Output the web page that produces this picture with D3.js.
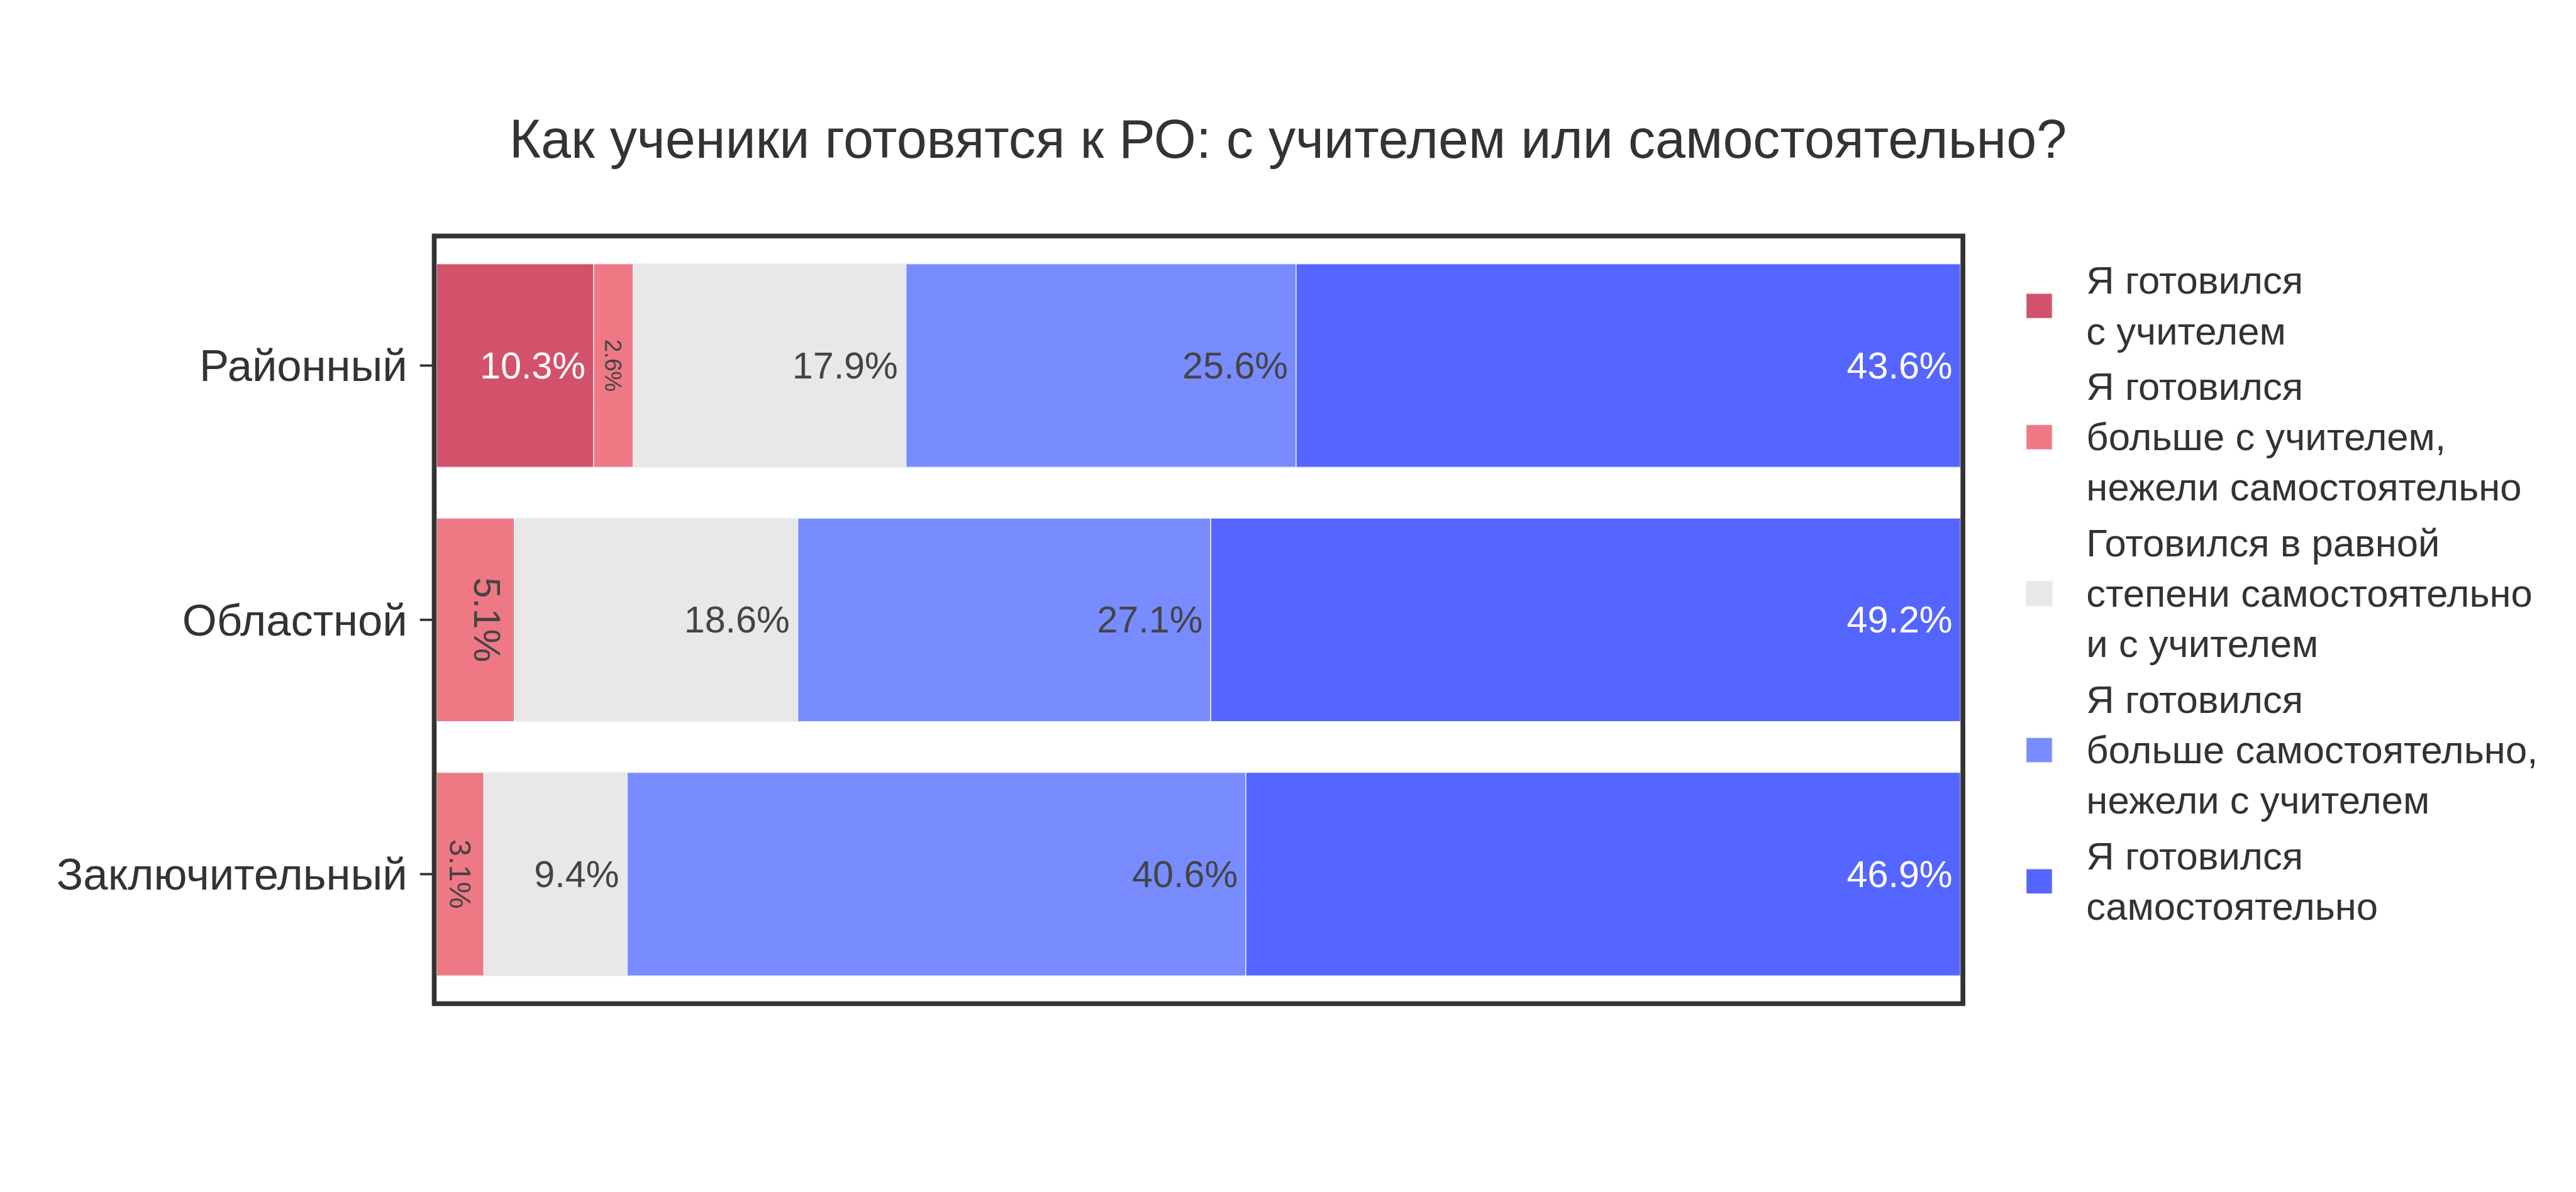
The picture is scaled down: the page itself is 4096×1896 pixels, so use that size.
<!DOCTYPE html>
<html>
<head>
<meta charset="utf-8">
<script src="https://cdn.jsdelivr.net/npm/d3@7"></script>
<style>
  html, body { margin: 0; padding: 0; background: #fff; }
  svg { display: block; }
</style>
</head>
<body>
<svg id="chart"></svg>
<script>
// ---------- DATA ----------
const categories = ["Районный", "Областной", "Заключительный"];
const seriesKeys = ["teacher", "moreTeacher", "equal", "moreSelf", "self"];
const legendLabels = [
  ["Я готовился", "с учителем"],
  ["Я готовился", "больше с учителем,", "нежели самостоятельно"],
  ["Готовился в равной", "степени самостоятельно", "и с учителем"],
  ["Я готовился", "больше самостоятельно,", "нежели с учителем"],
  ["Я готовился", "самостоятельно"]
];
const teacher     = [10.3, 0, 0];
const moreTeacher = [2.6, 5.1, 3.1];
const equal       = [17.9, 18.6, 9.4];
const moreSelf    = [25.6, 27.1, 40.6];
const self        = [43.6, 49.2, 46.9];
const xDomain = [0, 100];
const titleText = "Как ученики готовятся к РО: с учителем или самостоятельно?";

// ---------- STYLE ----------
const colors = ["#D1526A", "#EF7885", "#E8E8E9", "#798CFF", "#5565FF"];
const textColors = ["#ffffff", "#444444", "#444444", "#444444", "#ffffff"];
const FONT = "'Liberation Sans', Arial, Helvetica, sans-serif";
const W = 4320, H = 2000;
const plot = { left: 732, right: 3288, top: 400, bottom: 1680 };
const labelSize = 62.5, tickSize = 74.5, titleSize = 91, legendSize = 65;
const pad = 13.5;

const seriesValues = [teacher, moreTeacher, equal, moreSelf, self];

const svg = d3.select("#chart")
  .attr("width", 4096).attr("height", 1896)
  .attr("viewBox", `0 0 ${W} ${H}`)
  .style("font-family", FONT);

svg.append("rect").attr("width", W).attr("height", H).attr("fill", "#fff");

const x = d3.scaleLinear().domain(xDomain).range([plot.left, plot.right]);
const y = d3.scaleBand().domain(categories).range([plot.top, plot.bottom])
  .paddingInner(0.2).paddingOuter(0.1);

// build stacked data
const rows = categories.map((c, i) => {
  const r = { category: c };
  seriesKeys.forEach((k, j) => r[k] = seriesValues[j][i]);
  return r;
});
const stacked = d3.stack().keys(seriesKeys)(rows);

// bars
const gBars = svg.append("g");
stacked.forEach((layer, j) => {
  gBars.append("g").selectAll("rect")
    .data(layer.filter(d => d[1] - d[0] > 0))
    .join("rect")
    .attr("x", d => x(d[0]))
    .attr("y", d => y(d.data.category))
    .attr("width", d => x(d[1]) - x(d[0]))
    .attr("height", y.bandwidth())
    .attr("fill", colors[j])
    .attr("stroke", "#eef0f7")
    .attr("stroke-width", 1.5);
});

// measuring helper
const meas = svg.append("text").attr("font-size", labelSize).attr("visibility", "hidden");
function textWidth(t, size) {
  meas.attr("font-size", size).text(t);
  return meas.node().getComputedTextLength();
}

// inside labels
const gLabels = svg.append("g");
stacked.forEach((layer, j) => {
  layer.forEach(d => {
    const v = d[1] - d[0];
    if (v <= 0) return;
    const label = d3.format(".1f")(v) + "%";
    const x0 = x(d[0]), x1 = x(d[1]);
    const bw = x1 - x0, bh = y.bandwidth();
    const cy = y(d.data.category) + bh / 2;
    const tw = textWidth(label, labelSize);
    const th = 1.02 * labelSize;
    const hScale = Math.min(1, (bw - 2 * pad) / tw, (bh - 2 * pad) / th);
    const rScale = Math.min(1, (bw - 2 * pad) / th, (bh - 2 * pad) / tw);
    if (hScale >= 1 || hScale >= rScale) {
      const s = labelSize * hScale;
      gLabels.append("text")
        .attr("x", x1 - pad).attr("y", cy + 0.3465 * s)
        .attr("text-anchor", "end")
        .attr("font-size", s)
        .attr("fill", textColors[j])
        .text(label);
    } else {
      const s = labelSize * rScale;
      const b = x1 - pad - 0.86 * s;
      gLabels.append("text")
        .attr("transform", `translate(${b},${cy}) rotate(90)`)
        .attr("text-anchor", "middle")
        .attr("font-size", s)
        .attr("fill", textColors[j])
        .text(label);
    }
  });
});

// frame
svg.append("rect")
  .attr("x", plot.left - 4).attr("y", plot.top - 4)
  .attr("width", plot.right - plot.left + 8)
  .attr("height", plot.bottom - plot.top + 8)
  .attr("fill", "none").attr("stroke", "#333").attr("stroke-width", 8);

// y axis
const yAxis = d3.axisLeft(y).tickSize(24).tickPadding(21);
const gy = svg.append("g").attr("transform", `translate(${plot.left - 4},0)`).call(yAxis);
gy.select(".domain").remove();
gy.selectAll(".tick line").attr("stroke", "#333").attr("stroke-width", 4);
gy.selectAll(".tick text")
  .attr("font-size", tickSize)
  .attr("font-family", FONT)
  .attr("fill", "#333")
  .attr("dy", "0.35em");

// title
svg.append("text")
  .attr("x", 2160).attr("y", 265)
  .attr("text-anchor", "middle")
  .attr("font-size", titleSize)
  .attr("fill", "#333")
  .text(titleText);

// legend
const gLeg = svg.append("g");
const lineH = 84.5, entryGap = 9;
let cursor = 471;
legendLabels.forEach((lines, j) => {
  const first = cursor;
  const last = cursor + (lines.length - 1) * lineH;
  const mid = (first + last) / 2;
  gLeg.append("rect")
    .attr("x", 3398).attr("y", mid - 21)
    .attr("width", 44).attr("height", 42)
    .attr("fill", colors[j])
    .attr("stroke", "#eef0f7").attr("stroke-width", 1.5);
  const t = gLeg.append("text")
    .attr("font-size", legendSize)
    .attr("fill", "#333");
  lines.forEach((ln, k) => {
    t.append("tspan")
      .attr("x", 3499)
      .attr("y", first + k * lineH + 0.34 * legendSize)
      .text(ln);
  });
  cursor = last + lineH + entryGap;
});
</script>
</body>
</html>
